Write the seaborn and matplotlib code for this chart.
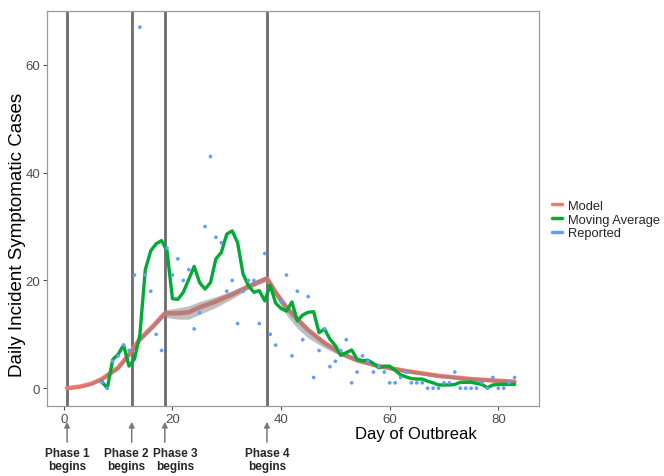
import numpy as np
import pandas as pd
import seaborn as sns
import matplotlib
matplotlib.use("Agg")
import matplotlib.pyplot as plt
from matplotlib.lines import Line2D
from matplotlib.transforms import offset_copy

# ---------------- data ----------------
reported_day = list(range(7, 84))
reported_cases = [1, 0, 5, 6, 8, 7, 21, 67, 21, 18, 10, 7, 26, 21, 24, 20, 22, 11, 14, 30,
                  43, 28, 27, 18, 20, 12, 18, 20, 20, 12, 25, 10, 8, 16, 21, 6, 18, 9, 17, 2,
                  7, 11, 4, 5, 7, 9, 1, 3, 6, 5, 3, 4, 3, 1, 1, 2, 3, 1, 1, 1,
                  0, 0, 0, 1, 1, 3, 0, 0, 0, 0, 1, 0, 2, 0, 0, 1, 2]

ma_day = list(range(7, 84))
ma_cases = [1.2, 0.0, 5.3, 6.3, 8.0, 4.1, 5.4, 9.9, 22.0, 25.5, 26.8, 27.4, 25.5, 16.6, 16.5,
            17.8, 20.2, 22.6, 19.6, 18.4, 19.6, 24.0, 25.2, 28.6, 29.2, 27.0, 21.2, 19.0,
            17.8, 18.1, 16.2, 19.1, 15.8, 14.8, 14.3, 16.0, 12.5, 13.6, 14.1, 14.2, 10.3,
            11.0, 9.1, 7.9, 6.1, 6.6, 7.1, 5.4, 5.1, 5.2, 4.6, 3.8, 4.1, 4.1, 3.3, 2.5, 2.1,
            1.8, 1.7, 1.7, 1.3, 1.0, 0.6, 0.6, 0.6, 0.7, 1.1, 1.1, 1.1, 0.9, 0.7, 0.1, 0.6,
            0.7, 0.7, 0.7, 0.7]

model_day = [0.6, 3, 5, 7, 10, 12, 14, 16.5, 18.6, 19, 21, 23, 25, 28, 31, 34, 37.4,
             39, 41, 43, 45, 48, 51, 54, 58, 63, 69, 75, 83]
model_cases = [0.0, 0.3, 0.8, 1.7, 3.8, 6.3, 9.1, 11.6, 13.9, 13.9, 13.9, 14.1, 15.0, 16.1,
               17.4, 18.9, 20.4, 17.8, 15.0, 12.8, 10.8, 8.4, 6.5, 5.2, 4.1, 3.2, 2.3, 1.7, 1.2]
model_lower = [0.0, 0.2, 0.6, 1.4, 3.4, 5.8, 8.6, 11.1, 13.4, 13.1, 12.8, 12.8, 13.7, 15.0,
               16.6, 18.4, 19.9, 17.0, 13.6, 11.1, 9.3, 7.5, 6.0, 4.8, 3.8, 2.9, 2.0, 1.4, 0.9]
model_upper = [0.1, 0.4, 1.0, 2.0, 4.2, 6.8, 9.6, 12.1, 14.4, 14.6, 14.9, 15.3, 16.1, 17.0,
               18.1, 19.4, 20.9, 18.3, 15.5, 13.3, 11.2, 8.8, 6.9, 5.6, 4.4, 3.5, 2.6, 2.0, 1.5]

phase_day = [0.6, 12.5, 18.6, 37.4]
phase_labels = ["Phase 1\nbegins", "Phase 2\nbegins", "Phase 3\nbegins", "Phase 4\nbegins"]

x_ticks = [0, 20, 40, 60, 80]
y_ticks = [0, 20, 40, 60]

legend_labels = ["Model", "Moving Average", "Reported"]
col_model = "#F8766D"
col_ma = "#00AA35"
col_rep = "#619CFF"

# ---------------- plot ----------------
sns.set_theme(style="white")
plt.rcParams["font.family"] = ["Liberation Sans", "DejaVu Sans"]

fig = plt.figure(figsize=(6.64, 4.77), dpi=100)
ax = fig.add_axes([47 / 664, 1 - 407 / 477, (539 - 47) / 664, (407 - 12) / 477])

df_model = pd.DataFrame({"day": model_day, "cases": model_cases,
                         "lo": model_lower, "hi": model_upper})
df_ma = pd.DataFrame({"day": ma_day, "cases": ma_cases})
df_rep = pd.DataFrame({"day": reported_day, "cases": reported_cases})

for d in phase_day:
    ax.axvline(d, color="#6b6b6b", lw=2.0, zorder=1)

sns.lineplot(data=df_model, x="day", y="cases", ax=ax, color=col_model, lw=3.2,
             zorder=3, estimator=None)
ax.fill_between(df_model["day"], df_model["lo"], df_model["hi"], color="#808080",
                alpha=0.5, lw=0, zorder=4)
sns.lineplot(data=df_ma, x="day", y="cases", ax=ax, color=col_ma, lw=2.4, zorder=5,
             estimator=None)
sns.scatterplot(data=df_rep, x="day", y="cases", ax=ax, color=col_rep, s=7,
                edgecolor="none", zorder=6)

ax.set_xlim(-3.1, 87.5)
ax.set_ylim(-3.3, 70)
ax.set_xticks(x_ticks)
ax.set_yticks(y_ticks)
ax.set_xlabel("")
ax.set_ylabel("Daily Incident Symptomatic Cases", fontsize=13.5, color="black")
ax.yaxis.set_label_coords(-0.042, (407 - 235) / 395)
ax.tick_params(axis="both", labelsize=9.5, colors="#4d4d4d", length=3, width=0.8,
               direction="out", pad=2)
ax.tick_params(axis="both", which="both", bottom=True, left=True)
for sp in ax.spines.values():
    sp.set_color("#9a9a9a")
    sp.set_linewidth(0.9)

fig.text(416 / 664, 1 - 435 / 477, "Day of Outbreak", fontsize=12, ha="center",
         va="center", color="black")

label_dx = [0, -5.5, 10, 0]  # pixel offsets of phase labels
for d, lab, dx in zip(phase_day, phase_labels, label_dx):
    ax.annotate("", xy=(d, -(420 - 407) / 395), xycoords=("data", "axes fraction"),
                xytext=(d, -(446 - 407) / 395), textcoords=("data", "axes fraction"),
                arrowprops=dict(arrowstyle="-|>", color="#7a7a7a", lw=1.1,
                                mutation_scale=8), annotation_clip=False)
    tr = offset_copy(ax.get_xaxis_transform(), fig=fig, x=dx * 0.72, y=0, units="points")
    ax.text(d, -(448 - 407) / 395, lab, transform=tr,
            ha="center", va="top", fontsize=8.5, fontweight="bold",
            linespacing=1.1, clip_on=False)

handles = [Line2D([0], [0], color=c, lw=2.5) for c in (col_model, col_ma, col_rep)]
fig.legend(handles, legend_labels, loc="center left",
           bbox_to_anchor=(552 / 664, 1 - 220.5 / 477), frameon=False, fontsize=9.3,
           handlelength=0.75, handletextpad=0.5, labelspacing=0.12, borderpad=0,
           borderaxespad=0)

fig.savefig("out.png", dpi=100, facecolor="white")
